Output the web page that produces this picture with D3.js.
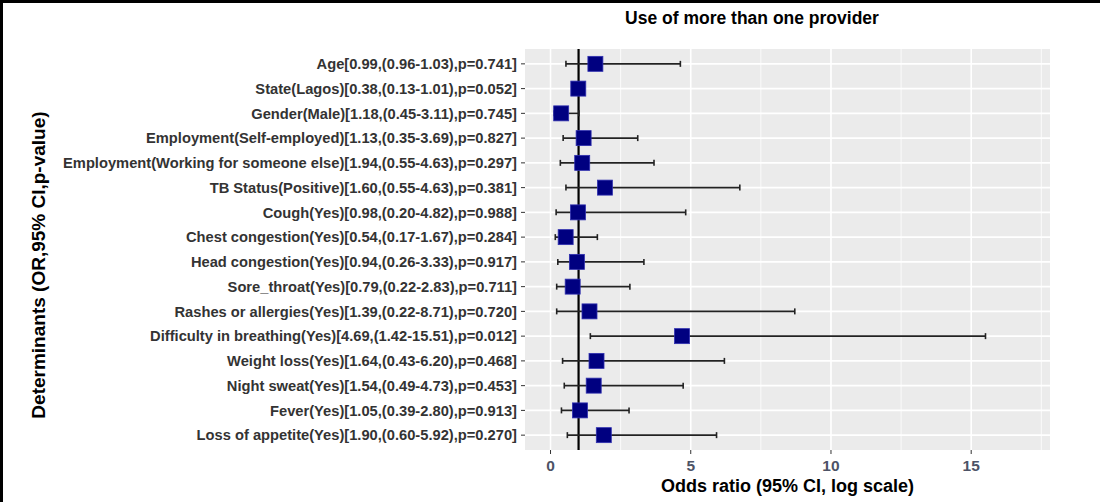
<!DOCTYPE html>
<html lang="en">
<head>
  <meta charset="UTF-8">
  <title>Use of more than one provider</title>
  <script src="https://cdn.jsdelivr.net/npm/d3@7/dist/d3.min.js"></script>
  <style>
    body { margin: 0; background: #fff; }
    text { font-family: "Liberation Sans", Arial, sans-serif; }
    .ylab { font-size: 14.7px; font-weight: bold; fill: #333; }
    .xlab { font-size: 15.5px; font-weight: bold; fill: #4d5366; }
    .title { font-size: 17.5px; font-weight: bold; fill: #000; }
    .axtitle { font-size: 18px; font-weight: bold; fill: #000; }
  </style>
</head>
<body>
<div class="chart"></div>
<script>
  // rows as printed on the y axis (top to bottom)
  const labels = [
    "Age[0.99,(0.96-1.03),p=0.741]",
    "State(Lagos)[0.38,(0.13-1.01),p=0.052]",
    "Gender(Male)[1.18,(0.45-3.11),p=0.745]",
    "Employment(Self-employed)[1.13,(0.35-3.69),p=0.827]",
    "Employment(Working for someone else)[1.94,(0.55-4.63),p=0.297]",
    "TB Status(Positive)[1.60,(0.55-4.63),p=0.381]",
    "Cough(Yes)[0.98,(0.20-4.82),p=0.988]",
    "Chest congestion(Yes)[0.54,(0.17-1.67),p=0.284]",
    "Head congestion(Yes)[0.94,(0.26-3.33),p=0.917]",
    "Sore_throat(Yes)[0.79,(0.22-2.83),p=0.711]",
    "Rashes or allergies(Yes)[1.39,(0.22-8.71),p=0.720]",
    "Difficulty in breathing(Yes)[4.69,(1.42-15.51),p=0.012]",
    "Weight loss(Yes)[1.64,(0.43-6.20),p=0.468]",
    "Night sweat(Yes)[1.54,(0.49-4.73),p=0.453]",
    "Fever(Yes)[1.05,(0.39-2.80),p=0.913]",
    "Loss of appetite(Yes)[1.90,(0.60-5.92),p=0.270]"
  ];
  // plotted values
  const oddsRatio = [1.60, 0.99, 0.38, 1.18, 1.13, 1.94, 0.98, 0.54, 0.94, 0.79, 1.39, 4.69, 1.64, 1.54, 1.05, 1.90];
  const ciLow     = [0.55, 0.96, 0.13, 0.45, 0.35, 0.55, 0.20, 0.17, 0.26, 0.22, 0.22, 1.42, 0.43, 0.49, 0.39, 0.60];
  const ciHigh    = [4.63, 1.03, 1.01, 3.11, 3.69, 6.75, 4.82, 1.67, 3.33, 2.83, 8.71, 15.51, 6.20, 4.73, 2.80, 5.92];
  const majorTicks = [0, 5, 10, 15];
  const minorTicks = [2.5, 7.5, 12.5, 17.5];

  const W = 1100, H = 502;
  const panel = { x0: 525, x1: 1050, y0: 49, y1: 450 };

  const svg = d3.select('.chart').append('svg')
    .attr('width', W).attr('height', H);

  // frame
  svg.append('rect').attr('x', 0).attr('y', 0).attr('width', 3).attr('height', H).attr('fill', '#000');
  svg.append('rect').attr('x', 0).attr('y', 0).attr('width', W).attr('height', 3).attr('fill', '#000');

  const x = d3.scaleLinear().domain([-0.91, 17.81]).range([panel.x0, panel.x1]);
  const y = d3.scalePoint().domain(labels).range([panel.y0, panel.y1]).padding(0.6);

  const data = labels.map((l, i) => ({ label: l, or: oddsRatio[i], lo: ciLow[i], hi: ciHigh[i] }));

  svg.append('rect')
    .attr('x', panel.x0).attr('y', panel.y0)
    .attr('width', panel.x1 - panel.x0).attr('height', panel.y1 - panel.y0)
    .attr('fill', '#ebebeb');

  // grid
  svg.selectAll('.minor').data(minorTicks).enter().append('line')
    .attr('x1', d => x(d)).attr('x2', d => x(d))
    .attr('y1', panel.y0).attr('y2', panel.y1)
    .attr('stroke', '#fff').attr('stroke-width', 0.8);
  svg.selectAll('.major').data(majorTicks).enter().append('line')
    .attr('x1', d => x(d)).attr('x2', d => x(d))
    .attr('y1', panel.y0).attr('y2', panel.y1)
    .attr('stroke', '#fff').attr('stroke-width', 1.6);
  svg.selectAll('.hgrid').data(labels).enter().append('line')
    .attr('x1', panel.x0).attr('x2', panel.x1)
    .attr('y1', d => y(d)).attr('y2', d => y(d))
    .attr('stroke', '#fff').attr('stroke-width', 1.6);

  // reference line at OR = 1
  svg.append('line')
    .attr('x1', x(1)).attr('x2', x(1))
    .attr('y1', panel.y0).attr('y2', panel.y1)
    .attr('stroke', '#000').attr('stroke-width', 2.2);

  // error bars
  const eb = svg.selectAll('g.eb').data(data).enter().append('g').attr('class', 'eb')
    .attr('stroke', '#222').attr('stroke-width', 1.6);
  eb.append('line')
    .attr('x1', d => x(d.lo)).attr('x2', d => x(d.hi))
    .attr('y1', d => y(d.label)).attr('y2', d => y(d.label));
  eb.append('line')
    .attr('x1', d => x(d.lo)).attr('x2', d => x(d.lo))
    .attr('y1', d => y(d.label) - 3).attr('y2', d => y(d.label) + 3);
  eb.append('line')
    .attr('x1', d => x(d.hi)).attr('x2', d => x(d.hi))
    .attr('y1', d => y(d.label) - 3).attr('y2', d => y(d.label) + 3);

  // points
  const s = 15;
  svg.selectAll('rect.pt').data(data).enter().append('rect').attr('class', 'pt')
    .attr('x', d => x(d.or) - s / 2).attr('y', d => y(d.label) - s / 2)
    .attr('width', s).attr('height', s)
    .attr('fill', '#000080').attr('stroke', '#3030b0').attr('stroke-width', 0.8);

  // y axis
  svg.selectAll('.ytick').data(labels).enter().append('line')
    .attr('x1', panel.x0 - 4).attr('x2', panel.x0)
    .attr('y1', d => y(d)).attr('y2', d => y(d))
    .attr('stroke', '#333').attr('stroke-width', 1);
  svg.selectAll('.ylab').data(labels).enter().append('text').attr('class', 'ylab')
    .attr('x', panel.x0 - 8).attr('y', d => y(d)).attr('dy', '0.35em')
    .attr('text-anchor', 'end').text(d => d);

  // x axis
  svg.selectAll('.xtick').data(majorTicks).enter().append('line')
    .attr('x1', d => x(d)).attr('x2', d => x(d))
    .attr('y1', panel.y1).attr('y2', panel.y1 + 4)
    .attr('stroke', '#333').attr('stroke-width', 1);
  svg.selectAll('.xlab').data(majorTicks).enter().append('text').attr('class', 'xlab')
    .attr('x', d => x(d)).attr('y', 471)
    .attr('text-anchor', 'middle').text(d => d);

  svg.append('text').attr('class', 'axtitle')
    .attr('x', (panel.x0 + panel.x1) / 2).attr('y', 492)
    .attr('text-anchor', 'middle').text('Odds ratio (95% CI, log scale)');

  svg.append('text').attr('class', 'axtitle')
    .style('font-size', '19px')
    .attr('transform', 'translate(45 265) rotate(-90)')
    .attr('text-anchor', 'middle').text('Determinants (OR,95% CI,p-value)');

  svg.append('text').attr('class', 'title')
    .attr('x', 752).attr('y', 24)
    .attr('text-anchor', 'middle').text('Use of more than one provider');
</script>
</body>
</html>
